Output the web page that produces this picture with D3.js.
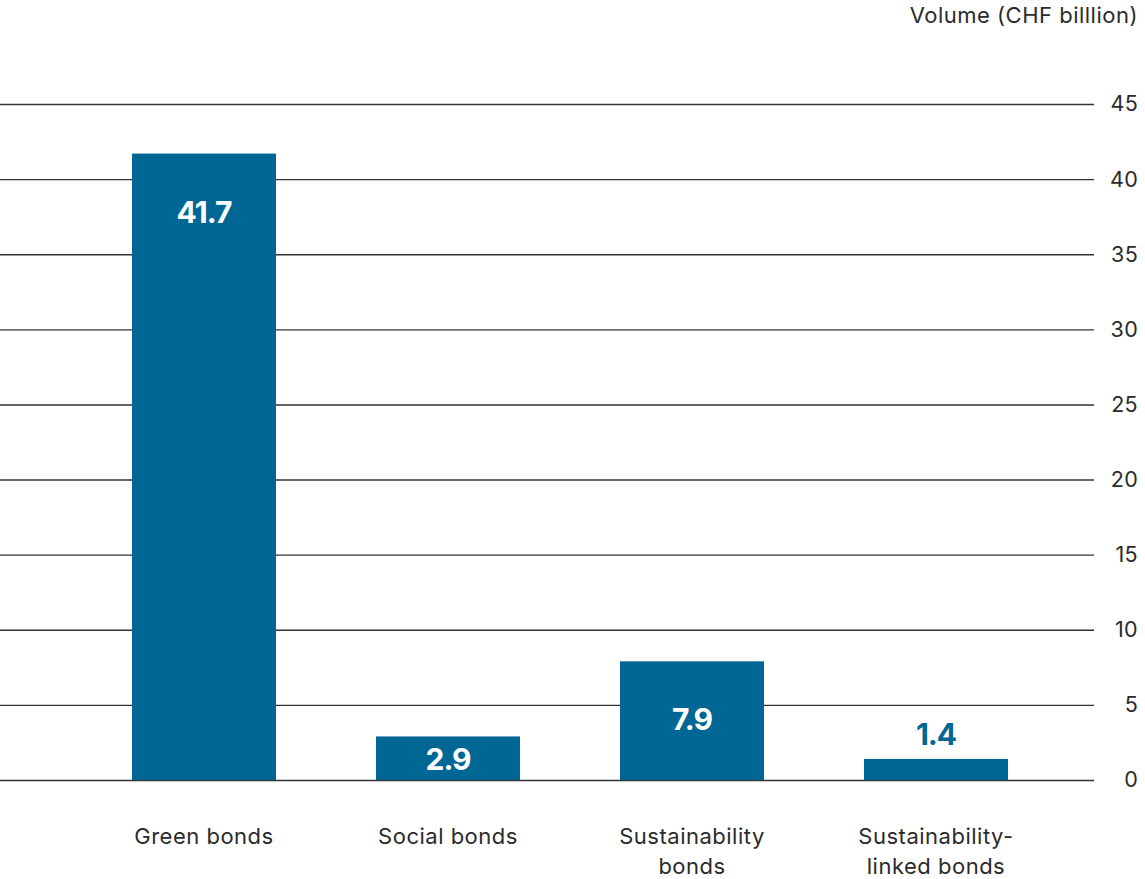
<!DOCTYPE html>
<html>
<head>
<meta charset="utf-8">
<script src="https://cdn.jsdelivr.net/npm/d3@7"></script>
<style>
  html, body { margin: 0; padding: 0; background: #fff; }
  svg { display: block; }
  text { font-family: Inter, "Noto Sans", sans-serif; }
</style>
</head>
<body>
<div id="chart"></div>
<script>
// Bond volumes by type
const categories = [["Green bonds"], ["Social bonds"], ["Sustainability", "bonds"], ["Sustainability-", "linked bonds"]];
const values = [41.7, 2.9, 7.9, 1.4];
const valueLabels = ["41.7", "2.9", "7.9", "1.4"];
const yTicks = [0, 5, 10, 15, 20, 25, 30, 35, 40, 45];
const unitTitle = "Volume (CHF billlion)";

const W = 1145, H = 879;
const barColor = "#006795";
const inkColor = "#2b2b2b";

const svg = d3.select("#chart").append("svg")
  .attr("width", W).attr("height", H);

const x = d3.scaleBand()
  .domain(d3.range(categories.length))
  .range([10, 1130])
  .paddingInner(100 / 244)
  .paddingOuter(0.5);

const y = d3.scaleLinear().domain([0, 45]).range([780, 104]);

// Horizontal gridlines with right-side tick labels
const axis = d3.axisRight(y)
  .tickValues(yTicks)
  .tickSize(1094)
  .tickPadding(16)
  .tickFormat(d3.format("d"));

const gAxis = svg.append("g").call(axis);
gAxis.select(".domain").remove();
gAxis.selectAll(".tick line")
  .attr("stroke", "#333")
  .attr("stroke-width", 1.4);
gAxis.selectAll(".tick text")
  .attr("x", 1138)
  .attr("text-anchor", "end")
  .attr("fill", inkColor)
  .style("font-size", "21.5px")
  .style("letter-spacing", "0.3px")
  .style("font-family", "Inter, 'Noto Sans', sans-serif");

// Unit title
svg.append("text")
  .attr("x", 1138).attr("y", 23)
  .attr("text-anchor", "end")
  .attr("fill", inkColor)
  .style("font-size", "22px")
  .style("letter-spacing", "0.5px")
  .text(unitTitle);

// Bars
svg.append("g").selectAll("rect")
  .data(values)
  .join("rect")
  .attr("x", (d, i) => x(i))
  .attr("width", x.bandwidth())
  .attr("y", d => y(d))
  .attr("height", d => y(0) - y(d))
  .attr("fill", barColor);

// Value labels: inside the bar when it is tall enough, above it otherwise
svg.append("g").selectAll("text")
  .data(values)
  .join("text")
  .attr("x", (d, i) => x(i) + x.bandwidth() / 2)
  .attr("y", d => {
    const h = y(0) - y(d);
    if (h > 80) return y(d) + 69;
    if (h > 34) return (y(d) + y(0)) / 2 + 12;
    return y(d) - 14;
  })
  .attr("text-anchor", "middle")
  .attr("fill", d => (y(0) - y(d) > 34 ? "#fff" : barColor))
  .style("font-size", "30px")
  .style("font-weight", "700")
  .style("letter-spacing", "-1px")
  .text((d, i) => valueLabels[i]);

// Category labels (one or two lines)
const catG = svg.append("g").selectAll("text")
  .data(categories)
  .join("text")
  .attr("x", (d, i) => x(i) + x.bandwidth() / 2)
  .attr("y", 844)
  .attr("text-anchor", "middle")
  .attr("fill", inkColor)
  .style("font-size", "22px")
  .style("letter-spacing", "0.5px");

catG.selectAll("tspan")
  .data(d => d)
  .join("tspan")
  .attr("x", function () { return d3.select(this.parentNode).attr("x"); })
  .attr("dy", (d, i) => (i === 0 ? 0 : 30))
  .text(d => d);
</script>
</body>
</html>
